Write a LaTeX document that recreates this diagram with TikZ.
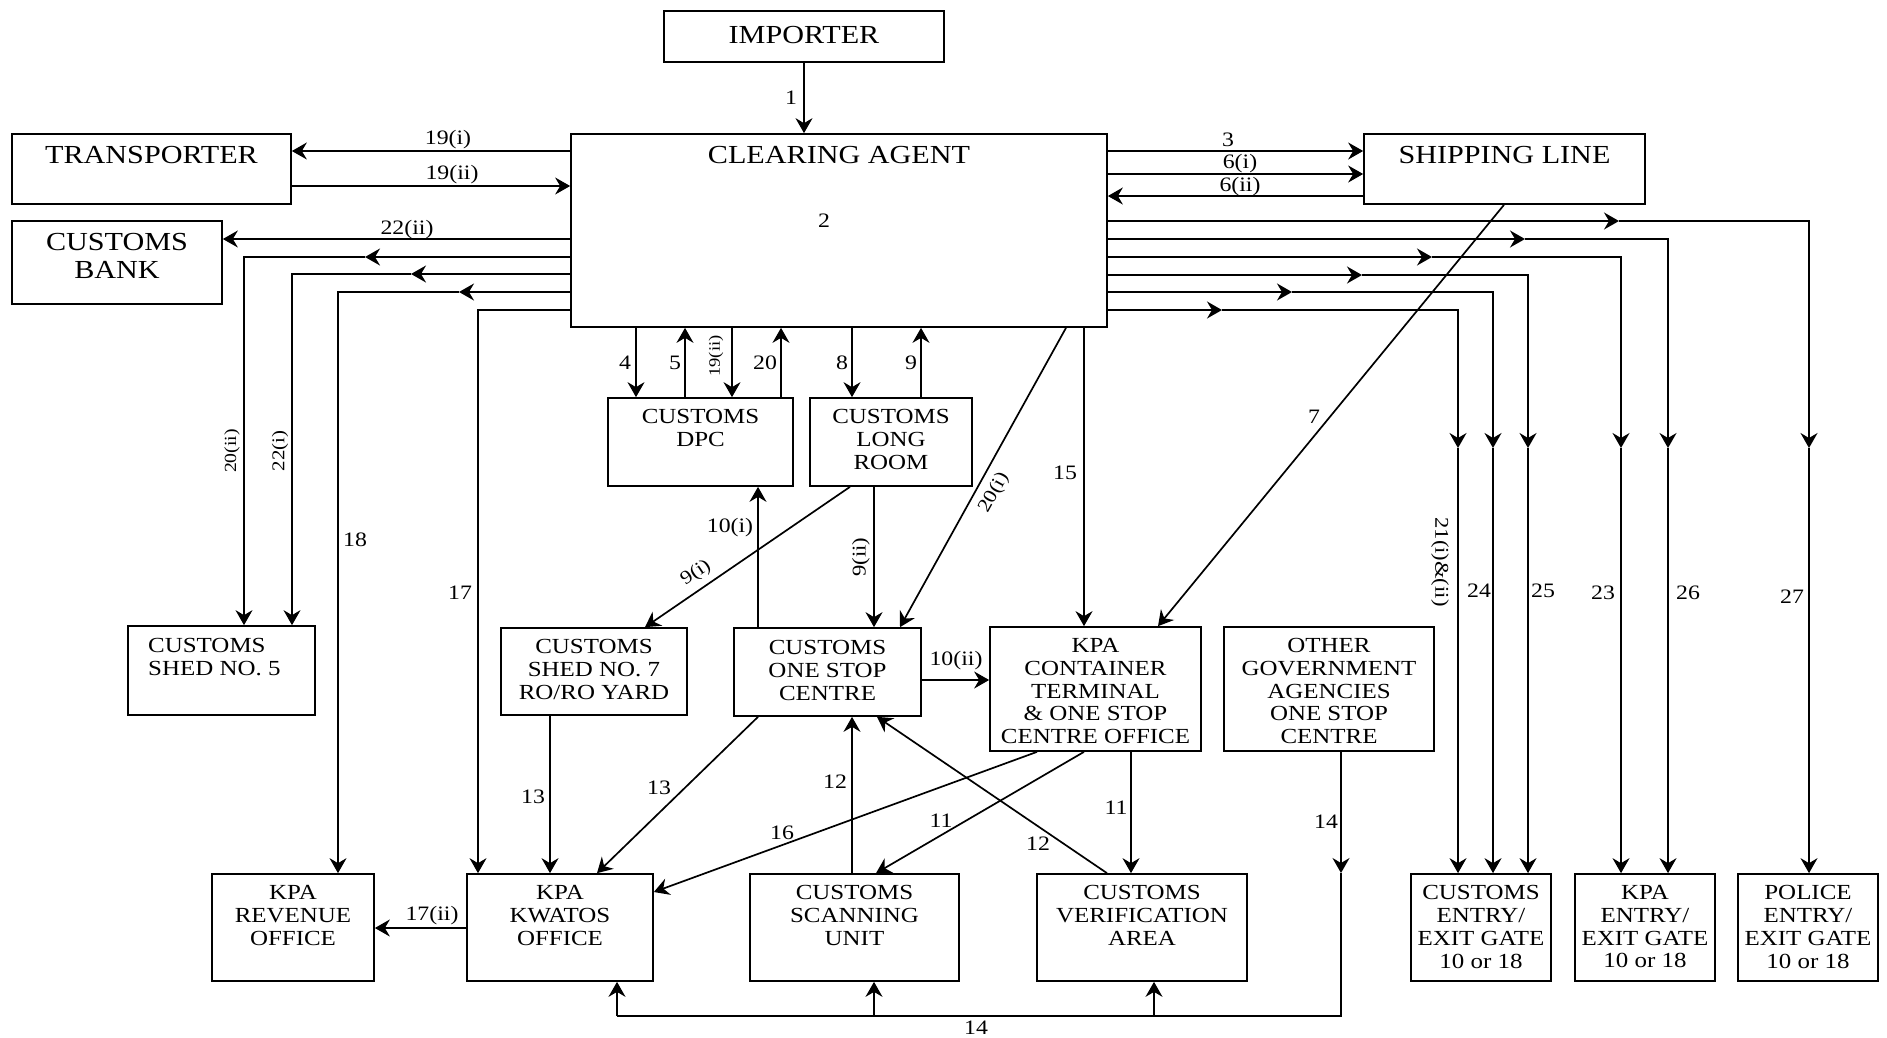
\documentclass[tikz,border=0pt]{standalone}
\usepackage{fontspec}
\setmainfont{Liberation Serif}[FakeStretch=1.16]
\usetikzlibrary{arrows.meta}
\newcommand\mkbox[5]{\node[box, minimum width={#4-#2}, minimum height={#5-#3}] (#1) at ({(#2+#4)/2},{(#3+#5)/2}) {};}
\begin{document}
\begin{tikzpicture}[x=1pt,y=-1pt,
  box/.style={draw, line width=1.7pt, inner sep=0pt},
  ln/.style={line width=1.7pt},
  arr/.style={-{Stealth[length=15pt,width=17pt,inset=5pt]}},
  tt/.style={font=\fontsize{26}{28}\selectfont, inner sep=0pt, align=center},
  bt/.style={font=\fontsize{21.5}{22.8}\selectfont, inner sep=0pt, align=center},
  lab/.style={font=\fontsize{20.5}{22}\selectfont, inner sep=0pt}]
\useasboundingbox (0,0) rectangle (1887,1037);
\foreach \v in {148,244,292,338,365,411,459,478,550,597,617,636,645,685,732,758,781,850,852,874,876,877,900,921,1037,1066,1084,1107,1131,1154,1158,1222,1292,1341,1362,1432,1458,1493,1504,1525,1528,1619,1621,1668,1809} {\coordinate (x\v) at (\v,0);}
\foreach \v in {151,174,186,196,221,239,257,274,275,292,310,448,680,873,892,928,1016} {\coordinate (y\v) at (0,\v);}

% boxes
\mkbox{imp}{664}{11}{944}{62}
\mkbox{ca}{571}{134}{1107}{327}
\mkbox{trans}{12}{134}{291}{204}
\mkbox{cb}{12}{221}{222}{304}
\mkbox{sl}{1364}{134}{1645}{204}
\mkbox{dpc}{608}{398}{793}{486}
\mkbox{lr}{810}{398}{972}{486}
\mkbox{shedA}{128}{626}{315}{715}
\mkbox{shedB}{501}{628}{687}{715}
\mkbox{osc}{734}{628}{921}{716}
\mkbox{kpact}{990}{627}{1201}{751}
\mkbox{oga}{1224}{627}{1434}{751}
\mkbox{rev}{212}{874}{374}{981}
\mkbox{kwat}{467}{874}{653}{981}
\mkbox{csu}{750}{874}{959}{981}
\mkbox{cva}{1037}{874}{1247}{981}
\mkbox{cgate}{1411}{874}{1551}{981}
\mkbox{kgate}{1575}{874}{1715}{981}
\mkbox{pgate}{1738}{874}{1878}{981}

% box texts
\node[tt] (imp-t) at (804,35) {IMPORTER};
\node[tt, anchor=north] (ca-t) at ([yshift=-12.5pt]ca.north) {CLEARING AGENT};
\node[lab] (ca-n) at (824,221) {2};
\node[tt, anchor=north] (trans-t) at ([yshift=-12.5pt]trans.north) {TRANSPORTER};
\node[tt, anchor=north] (cb-t) at ([yshift=-12.5pt]cb.north) {CUSTOMS\\BANK};
\node[tt, anchor=north] (sl-t) at ([yshift=-12.5pt]sl.north) {SHIPPING LINE};
\node[bt, anchor=north] (dpc-t) at ([yshift=-12pt]dpc.north) {CUSTOMS\\DPC};
\node[bt, anchor=north] (lr-t) at ([yshift=-12pt]lr.north) {CUSTOMS\\LONG\\ROOM};
\node[bt, anchor=north west, align=left] (shedA-t) at (148,638) {CUSTOMS\\SHED NO. 5};
\node[bt, anchor=north] (shedB-t) at ([yshift=-12pt]shedB.north) {CUSTOMS\\SHED NO. 7\\RO/RO YARD};
\node[bt, anchor=north] (osc-t) at ([yshift=-13pt]osc.north) {CUSTOMS\\ONE STOP\\CENTRE};
\node[bt, anchor=north] (kpact-t) at ([yshift=-12pt]kpact.north) {KPA\\CONTAINER\\TERMINAL\\\& ONE STOP\\CENTRE OFFICE};
\node[bt, anchor=north] (oga-t) at ([yshift=-12pt]oga.north) {OTHER\\GOVERNMENT\\AGENCIES\\ONE STOP\\CENTRE};
\node[bt, anchor=north] (rev-t) at ([yshift=-12pt]rev.north) {KPA\\REVENUE\\OFFICE};
\node[bt, anchor=north] (kwat-t) at ([yshift=-12pt]kwat.north) {KPA\\KWATOS\\OFFICE};
\node[bt, anchor=north] (csu-t) at ([yshift=-12pt]csu.north) {CUSTOMS\\SCANNING\\UNIT};
\node[bt, anchor=north] (cva-t) at ([yshift=-12pt]cva.north) {CUSTOMS\\VERIFICATION\\AREA};
\node[bt, anchor=north] (cgate-t) at ([yshift=-12pt]cgate.north) {CUSTOMS\\ENTRY/\\EXIT GATE\\10 or 18};
\node[bt, anchor=north] (kgate-t) at ([yshift=-12pt]kgate.north) {KPA\\ENTRY/\\EXIT GATE\\10 or 18};
\node[bt, anchor=north] (pgate-t) at ([yshift=-12pt]pgate.north) {POLICE\\ENTRY/\\EXIT GATE\\10 or 18};

% top connectors
\draw[ln,arr] (imp.south) -- (imp.south |- ca.north);
\draw[ln,arr] (ca.west |- y151) -- (trans.east |- y151);
\draw[ln,arr] (trans.east |- y186) -- (ca.west |- y186);
\draw[ln,arr] (ca.west |- y239) -- (cb.east |- y239);
\draw[ln,arr] (ca.east |- y151) -- (sl.west |- y151);
\draw[ln,arr] (ca.east |- y174) -- (sl.west |- y174);
\draw[ln,arr] (sl.west |- y196) -- (ca.east |- y196);

% left long connectors
\draw[ln,arr] (ca.west |- y257) -- (x365 |- y257);
\draw[ln,arr] (x365 |- y257) -| (shedA.north -| x244);
\draw[ln,arr] (ca.west |- y274) -- (x411 |- y274);
\draw[ln,arr] (x411 |- y274) -| (shedA.north -| x292);
\draw[ln,arr] (ca.west |- y292) -- (x459 |- y292);
\draw[ln,arr] (x459 |- y292) -| (rev.north -| x338);
\draw[ln,arr] (ca.west |- y310) -| (kwat.north -| x478);

% right long connectors
\draw[ln,arr] (ca.east |- y221) -- (x1619 |- y221);
\draw[ln,arr] (x1619 |- y221) -| (x1809 |- y448);
\draw[ln,arr] (x1809 |- y448) -- (pgate.north -| x1809);
\draw[ln,arr] (ca.east |- y239) -- (x1525 |- y239);
\draw[ln,arr] (x1525 |- y239) -| (x1668 |- y448);
\draw[ln,arr] (x1668 |- y448) -- (kgate.north -| x1668);
\draw[ln,arr] (ca.east |- y257) -- (x1432 |- y257);
\draw[ln,arr] (x1432 |- y257) -| (x1621 |- y448);
\draw[ln,arr] (x1621 |- y448) -- (kgate.north -| x1621);
\draw[ln,arr] (ca.east |- y275) -- (x1362 |- y275);
\draw[ln,arr] (x1362 |- y275) -| (x1528 |- y448);
\draw[ln,arr] (x1528 |- y448) -- (cgate.north -| x1528);
\draw[ln,arr] (ca.east |- y292) -- (x1292 |- y292);
\draw[ln,arr] (x1292 |- y292) -| (x1493 |- y448);
\draw[ln,arr] (x1493 |- y448) -- (cgate.north -| x1493);
\draw[ln,arr] (ca.east |- y310) -- (x1222 |- y310);
\draw[ln,arr] (x1222 |- y310) -| (x1458 |- y448);
\draw[ln,arr] (x1458 |- y448) -- (cgate.north -| x1458);

% middle connectors
\draw[ln,arr] (ca.south -| x636) -- (dpc.north -| x636);
\draw[ln,arr] (dpc.north -| x685) -- (ca.south -| x685);
\draw[ln,arr] (ca.south -| x732) -- (dpc.north -| x732);
\draw[ln,arr] (dpc.north -| x781) -- (ca.south -| x781);
\draw[ln,arr] (ca.south -| x852) -- (lr.north -| x852);
\draw[ln,arr] (lr.north -| x921) -- (ca.south -| x921);
\draw[ln,arr] (osc.north -| x758) -- (dpc.south -| x758);
\draw[ln,arr] (lr.south -| x850) -- (shedB.north -| x645);
\draw[ln,arr] (lr.south -| x874) -- (osc.north -| x874);
\draw[ln,arr] (ca.south -| x1066) -- (osc.north -| x900);
\draw[ln,arr] (ca.south -| x1084) -- (kpact.north -| x1084);
\draw[ln,arr] (sl.south -| x1504) -- (kpact.north -| x1158);
\draw[ln,arr] (osc.east |- y680) -- (kpact.west |- y680);

% lower connectors
\draw[ln,arr] (shedB.south -| x550) -- (kwat.north -| x550);
\draw[ln,arr] (osc.south -| x758) -- (kwat.north -| x597);
\draw[ln,arr] (csu.north -| x852) -- (osc.south -| x852);
\draw[ln,arr] (kpact.south -| x1037) -- (kwat.east |- y892);
\draw[ln,arr] (kpact.south -| x1084) -- (csu.north -| x876);
\draw[ln,arr] (cva.north -| x1107) -- (osc.south -| x877);
\draw[ln,arr] (kpact.south -| x1131) -- (cva.north -| x1131);
\draw[ln,arr] (kwat.west |- y928) -- (rev.east |- y928);
\draw[ln,arr] (oga.south -| x1341) -- (x1341 |- y873);
\draw[ln] (x1341 |- y873) |- (x617 |- y1016);
\draw[ln,arr] (x617 |- y1016) -- (kwat.south -| x617);
\draw[ln,arr] (x874 |- y1016) -- (csu.south -| x874);
\draw[ln,arr] (x1154 |- y1016) -- (cva.south -| x1154);

% labels
\node[lab] (l1) at (791,98) {1};
\node[lab] (l19i) at (448,140) {19(i)};
\node[lab] (l19ii) at (452,175) {19(ii)};
\node[lab] (l22ii) at (407,230) {22(ii)};
\node[lab] (l3) at (1228,140) {3};
\node[lab] (l6i) at (1240,164) {6(i)};
\node[lab] (l6ii) at (1240,187) {6(ii)};
\node[lab] (l4) at (625,363) {4};
\node[lab] (l5) at (675,363) {5};
\node[lab, font=\fontsize{16}{18}\selectfont, rotate=90] (l19iib) at (716,356) {19(ii)};
\node[lab] (l20) at (765,363) {20};
\node[lab] (l8) at (842,363) {8};
\node[lab] (l9) at (911,363) {9};
\node[lab, font=\fontsize{17}{19}\selectfont, rotate=90] (l20ii) at (232,451) {20(ii)};
\node[lab, font=\fontsize{18}{20}\selectfont, rotate=90] (l22i) at (280,451) {22(i)};
\node[lab] (l18) at (355,540) {18};
\node[lab] (l17) at (460,593) {17};
\node[lab] (l10i) at (730,528) {10(i)};
\node[lab, font=\fontsize{19}{21}\selectfont, rotate=34] (l9i) at (696,573) {9(i)};
\node[lab, font=\fontsize{19.5}{21}\selectfont, rotate=90] (l9ii) at (861,557) {9(ii)};
\node[lab, font=\fontsize{19}{21}\selectfont, rotate=61] (l20i) at (994,493) {20(i)};
\node[lab] (l15) at (1065,473) {15};
\node[lab] (l7) at (1314,417) {7};
\node[lab] (l10ii) at (956,661) {10(ii)};
\node[lab, font=\fontsize{19.5}{21}\selectfont, rotate=-90] (l21) at (1440,562) {21(i)\&(ii)};
\node[lab] (l24) at (1479,591) {24};
\node[lab] (l25) at (1543,591) {25};
\node[lab] (l23) at (1603,593) {23};
\node[lab] (l26) at (1688,593) {26};
\node[lab] (l27) at (1792,597) {27};
\node[lab] (l13a) at (533,797) {13};
\node[lab] (l13b) at (659,788) {13};
\node[lab] (l12a) at (835,782) {12};
\node[lab] (l16) at (782,833) {16};
\node[lab] (l11a) at (941,821) {11};
\node[lab] (l12b) at (1038,844) {12};
\node[lab] (l11b) at (1116,808) {11};
\node[lab] (l14a) at (1326,822) {14};
\node[lab] (l14b) at (976,1028) {14};
\node[lab] (l17ii) at (432,916) {17(ii)};
\end{tikzpicture}
\end{document}
